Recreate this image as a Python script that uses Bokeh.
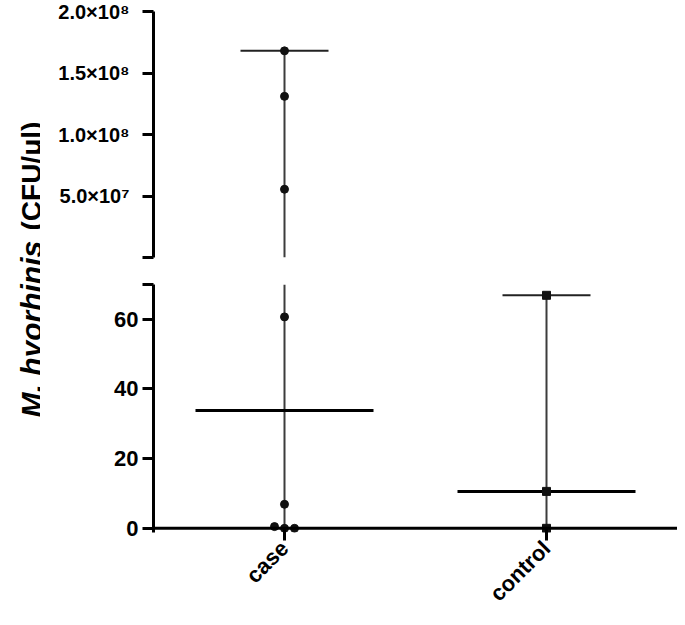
import numpy as np
from math import pi
from bokeh.plotting import figure
from bokeh.layouts import row, column
from bokeh.models import Range1d, FixedTicker, Span, Label
from bokeh.embed import file_html
from bokeh.resources import INLINE

# ---------------- data ----------------
groups = ["case", "control"]
case_values = [0.0, 0.0, 0.5, 6.9, 60.7, 5.55e7, 1.31e8, 1.68e8]
control_values = [0.0, 10.6, 66.9]
group_markers = ["circle", "square"]

upper_ticks = [0, 5e7, 1e8, 1.5e8, 2e8]
upper_tick_labels = ["", "5.0×10⁷", "1.0×10⁸", "1.5×10⁸", "2.0×10⁸"]
lower_ticks = [0, 20, 40, 60, 70]
lower_tick_labels = ["0", "20", "40", "60", ""]
upper_range = (0, 2e8)
lower_range = (0, 70)
y_label_italic = "M. hyorhinis"
y_label_rest = "(CFU/μl)"

# ---------------- layout constants ----------------
FONT = "Liberation Sans"
LAB_W = 40
MAIN_W = 637
LEFT = 113
FRAME_W = MAIN_W - LEFT
PX_PER_X = FRAME_W / 2.0
TOP_H, BOT_H = 270, 347
TOTAL_H = TOP_H + BOT_H
CAP_HALF = 44 / PX_PER_X
MED_HALF = 89 / PX_PER_X
Y_BELOW = 1.2

xr = Range1d(0.5, 2.5)


def spread(vals):
    order = sorted(range(len(vals)), key=lambda k: -vals[k])
    clusters = []
    for k in order:
        for c in clusters:
            if abs(vals[c[0]] - vals[k]) < 1.0:
                c.append(k)
                break
        else:
            clusters.append([k])
    offs = [0.0] * len(vals)
    for c in clusters:
        n = len(c)
        for j, k in enumerate(c):
            offs[k] = (j - (n - 1) / 2) * 10 / PX_PER_X
    return offs


all_values = [case_values, control_values]


def style_y(p, ticks, labels, standoff, size):
    ax = p.yaxis[0]
    ax.ticker = FixedTicker(ticks=ticks)
    ax.major_label_overrides = {t: l for t, l in zip(ticks, labels)}
    ax.axis_line_width = 3
    ax.axis_line_color = "black"
    ax.major_tick_line_width = 3
    ax.major_tick_line_color = "black"
    ax.major_tick_in = 0
    ax.major_tick_out = 11
    ax.minor_tick_line_color = None
    ax.major_label_text_font = FONT
    ax.major_label_text_font_style = "bold"
    ax.major_label_text_font_size = size
    ax.major_label_text_color = "black"
    ax.major_label_standoff = standoff


def draw(p, lo, hi, upper):
    for i, vals in enumerate(all_values):
        x = i + 1
        vmin, vmax = min(vals), max(vals)
        med = float(np.median(vals))
        if upper:
            if vmax <= lower_range[1]:
                continue
            p.segment(x0=[x], y0=[lo], x1=[x], y1=[vmax], line_color="#3c3c3c", line_width=2)
            p.segment(x0=[x - CAP_HALF], y0=[vmax], x1=[x + CAP_HALF], y1=[vmax],
                      line_color="#222222", line_width=2)
            if med > lower_range[1]:
                p.segment(x0=[x - MED_HALF], y0=[med], x1=[x + MED_HALF], y1=[med],
                          line_color="black", line_width=3)
        else:
            p.segment(x0=[x], y0=[vmin], x1=[x], y1=[min(vmax, hi)], line_color="#3c3c3c", line_width=2)
            if vmax <= hi:
                p.segment(x0=[x - CAP_HALF], y0=[vmax], x1=[x + CAP_HALF], y1=[vmax],
                          line_color="#222222", line_width=2)
            if med <= hi:
                p.segment(x0=[x - MED_HALF], y0=[med], x1=[x + MED_HALF], y1=[med],
                          line_color="black", line_width=3)
        offs = spread(vals)
        xs, ys = [], []
        for v, o in zip(vals, offs):
            if (upper and v > lower_range[1]) or (not upper and v <= lower_range[1]):
                xs.append(x + o)
                ys.append(v)
        if xs:
            p.scatter(x=xs, y=ys, marker=group_markers[i], size=8,
                      fill_color="#111111", line_color="#111111")


# ---------------- upper panel ----------------
top = figure(width=MAIN_W, height=TOP_H, x_range=xr, y_range=Range1d(*upper_range),
             x_axis_location=None, toolbar_location=None, output_backend="svg",
             min_border_left=LEFT, min_border_right=0, min_border_top=11, min_border_bottom=13)
top.outline_line_color = None
top.grid.visible = False
style_y(top, upper_ticks, upper_tick_labels, 13, "20px")
draw(top, upper_range[0], upper_range[1], True)

# ---------------- lower panel ----------------
bot = figure(width=MAIN_W, height=BOT_H, x_range=xr, y_range=Range1d(-Y_BELOW, lower_range[1]),
             toolbar_location=None, output_backend="svg",
             min_border_left=LEFT, min_border_right=0, min_border_top=14, min_border_bottom=84)
bot.outline_line_color = None
bot.grid.visible = False
style_y(bot, lower_ticks, lower_tick_labels, 4, "22px")
xa = bot.xaxis[0]
xa.ticker = FixedTicker(ticks=[1, 2])
xa.major_label_overrides = {i + 1: g for i, g in enumerate(groups)}
xa.major_label_orientation = pi / 4
xa.axis_line_color = None
xa.major_tick_line_width = 3
xa.major_tick_line_color = "black"
xa.major_tick_in = 4
xa.major_tick_out = 8
xa.minor_tick_line_color = None
xa.major_label_text_font = FONT
xa.major_label_text_font_style = "bold"
xa.major_label_text_font_size = "22px"
xa.major_label_text_color = "black"
xa.major_label_standoff = 4
bot.add_layout(Span(location=0, dimension="width", line_color="black", line_width=3))
draw(bot, lower_range[0], lower_range[1], False)

# ---------------- y label ----------------
lab = figure(width=LAB_W, height=TOTAL_H, x_range=Range1d(0, LAB_W),
             y_range=Range1d(0, TOTAL_H), x_axis_location=None, y_axis_location=None,
             toolbar_location=None, output_backend="svg", min_border=0)
lab.outline_line_color = None
lab.grid.visible = False
lab.add_layout(Label(x=31, y=TOTAL_H - 417, text=y_label_italic, angle=pi / 2,
                     text_font=FONT, text_font_style="bold italic", text_font_size="30px",
                     text_baseline="alphabetic", text_align="left", text_color="black"))
lab.add_layout(Label(x=31, y=TOTAL_H - 230, text=y_label_rest, angle=pi / 2,
                     text_font=FONT, text_font_style="bold", text_font_size="28px",
                     text_baseline="alphabetic", text_align="left", text_color="black"))

layout = row(lab, column(top, bot, spacing=0), spacing=0)
open("out.html", "w").write(file_html(layout, INLINE))
